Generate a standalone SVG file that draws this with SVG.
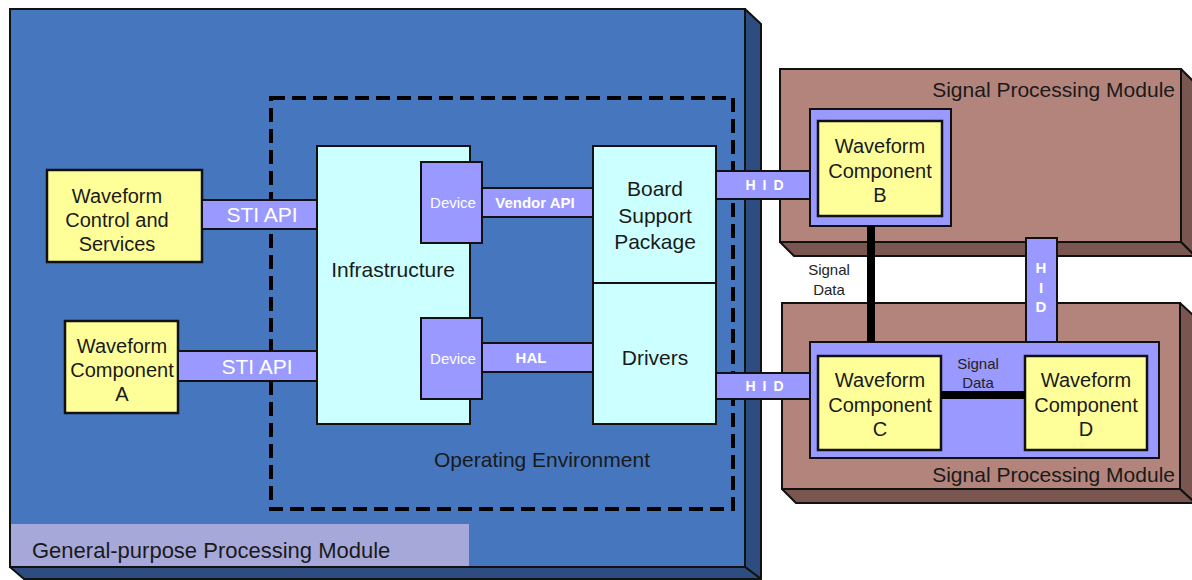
<svg xmlns="http://www.w3.org/2000/svg" width="1192" height="580" viewBox="0 0 1192 580">
<style>
text{font-family:"Liberation Sans",Arial,sans-serif;fill:#1a1a1a}
.mod{fill:#4676be;stroke:#111;stroke-width:2}
.modside{fill:#2d4d80;stroke:#111;stroke-width:2;stroke-linejoin:round}
.spm{fill:#b3847b;stroke:#111;stroke-width:2}
.spmside{fill:#7a5650;stroke:#111;stroke-width:2;stroke-linejoin:round}
.cyan{fill:#ccffff;stroke:#111;stroke-width:2}
.yel{fill:#ffff99;stroke:#111;stroke-width:2.5}
.pur{fill:#9999ff;stroke:#111;stroke-width:2}
.bar{fill:#9999ff;stroke:#111;stroke-width:2}
.sig{stroke:#000;stroke-width:8}
.t20{font-size:20px;text-anchor:middle}
.t21{font-size:21px;text-anchor:middle}
.wl{font-size:21px;text-anchor:middle;fill:#fff}
.sm{font-size:15px;text-anchor:middle;fill:#fff}
.smb{font-size:15px;text-anchor:middle;fill:#fff;font-weight:bold}
.hid{font-size:14px;text-anchor:middle;fill:#fff;font-weight:bold;letter-spacing:7px}
.sd{font-size:15px;text-anchor:middle;fill:#222}
.spt{font-size:21px;text-anchor:end}
</style>

<g id="gpp-module">
  <polygon class="modside" points="745,9 761,24 761,579 745,567"/>
  <polygon class="modside" points="10,567 745,567 761,579 24,579"/>
  <rect class="mod" x="10" y="9" width="735" height="558"/>
  <rect x="11" y="524" width="458" height="42" fill="#a6a8d9"/>
  <text x="32" y="558" style="font-size:22px">General-purpose Processing Module</text>
</g>

<g id="operating-environment">
  <rect x="271" y="98" width="462" height="411" fill="none" stroke="#000" stroke-width="4" stroke-dasharray="14,7"/>
  <text class="t21" x="542" y="467">Operating Environment</text>
</g>

<g id="spm-top">
  <polygon class="spmside" points="1181,69 1195,83 1195,256 1181,242"/>
  <polygon class="spmside" points="780,242 1181,242 1195,256 794,256"/>
  <rect class="spm" x="780" y="69" width="401" height="173"/>
  <text class="spt" x="1175" y="97">Signal Processing Module</text>
</g>

<g id="spm-bottom">
  <polygon class="spmside" points="1180,303 1195,317 1195,503 1180,489"/>
  <polygon class="spmside" points="782,489 1180,489 1195,503 796,503"/>
  <rect class="spm" x="782" y="303" width="398" height="186"/>
  <text class="spt" x="1175" y="482">Signal Processing Module</text>
</g>

<g id="waveform-control">
  <rect class="yel" x="47" y="170" width="155" height="92"/>
  <text class="t20" x="117" y="203">Waveform</text>
  <text class="t20" x="117" y="227">Control and</text>
  <text class="t20" x="117" y="251">Services</text>
</g>

<g id="waveform-a">
  <rect class="yel" x="65" y="321" width="113" height="92"/>
  <text class="t20" x="122" y="353">Waveform</text>
  <text class="t20" x="122" y="377">Component</text>
  <text class="t20" x="122" y="401">A</text>
</g>

<g id="infrastructure">
  <rect class="cyan" x="317" y="146" width="153" height="278"/>
  <text class="t21" x="393" y="277">Infrastructure</text>
</g>

<g id="device-1">
  <rect class="pur" x="421" y="162" width="61" height="81"/>
  <text class="sm" x="453" y="208">Device</text>
</g>

<g id="device-2">
  <rect class="pur" x="421" y="318" width="61" height="81"/>
  <text class="sm" x="453" y="364">Device</text>
</g>

<g id="bsp">
  <rect class="cyan" x="593" y="146" width="123" height="137"/>
  <text class="t21" x="655" y="196">Board</text>
  <text class="t21" x="655" y="223">Support</text>
  <text class="t21" x="655" y="249">Package</text>
</g>

<g id="drivers">
  <rect class="cyan" x="593" y="283" width="123" height="141"/>
  <text class="t21" x="655" y="365">Drivers</text>
</g>

<g id="waveform-b">
  <rect class="pur" x="810" y="109" width="141" height="117"/>
  <rect class="yel" x="818" y="121" width="124" height="95"/>
  <text class="t20" x="880" y="153">Waveform</text>
  <text class="t20" x="880" y="178">Component</text>
  <text class="t20" x="880" y="202">B</text>
</g>

<g id="waveform-cd-frame">
  <rect class="pur" x="810" y="342" width="349" height="116"/>
</g>

<g id="waveform-c">
  <rect class="yel" x="818" y="356" width="123" height="94"/>
  <text class="t20" x="880" y="387">Waveform</text>
  <text class="t20" x="880" y="412">Component</text>
  <text class="t20" x="880" y="436">C</text>
</g>

<g id="waveform-d">
  <rect class="yel" x="1025" y="356" width="122" height="94"/>
  <text class="t20" x="1086" y="387">Waveform</text>
  <text class="t20" x="1086" y="412">Component</text>
  <text class="t20" x="1086" y="436">D</text>
</g>

<g id="connectors">
  <rect class="bar" x="202" y="200" width="115" height="29"/>
  <text class="wl" x="262" y="222">STI API</text>
  <rect class="bar" x="178" y="351" width="139" height="30"/>
  <text class="wl" x="257" y="374">STI API</text>
  <rect class="bar" x="482" y="188" width="111" height="29"/>
  <text class="smb" x="535" y="208">Vendor API</text>
  <rect class="bar" x="482" y="343" width="111" height="29"/>
  <text class="smb" x="531" y="363">HAL</text>
  <rect class="bar" x="716" y="171" width="94" height="28"/>
  <text class="hid" x="768" y="190">HID</text>
  <rect class="bar" x="716" y="373" width="94" height="26"/>
  <text class="hid" x="768" y="391">HID</text>
  <line class="sig" x1="871" y1="226" x2="871" y2="342"/>
  <text class="sd" x="829" y="275">Signal</text>
  <text class="sd" x="829" y="295">Data</text>
  <rect class="bar" x="1026" y="238" width="31" height="104"/>
  <text class="smb" x="1041" y="273"><tspan x="1041">H</tspan><tspan x="1041" dy="19.5">I</tspan><tspan x="1041" dy="19.5">D</tspan></text>
  <line class="sig" x1="941" y1="395" x2="1025" y2="395"/>
  <text class="sd" x="978" y="369">Signal</text>
  <text class="sd" x="978" y="388">Data</text>
</g>
</svg>
